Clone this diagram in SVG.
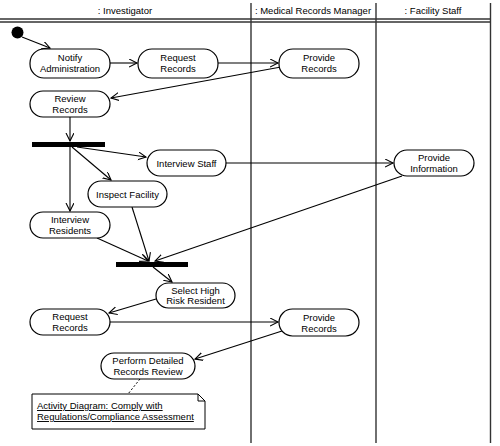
<svg xmlns="http://www.w3.org/2000/svg" width="500" height="446" viewBox="0 0 500 446">
<defs>
<marker id="arr" markerUnits="userSpaceOnUse" markerWidth="10" markerHeight="10" refX="8" refY="4" orient="auto">
<path d="M0,0 L8,4 L0,8" fill="none" stroke="#000" stroke-width="1.1"/>
</marker>
<style>
text{font-family:"Liberation Sans",Arial,sans-serif;font-size:9.5px;fill:#000;text-anchor:middle}
.act{fill:#fff;stroke:#000;stroke-width:1.2}
.bar{fill:#000}
.lane{stroke:#333;stroke-width:1.4;fill:none}
.c{stroke:#000;stroke-width:1.1;fill:none;marker-end:url(#arr)}
.note{fill:#fff;stroke:#000;stroke-width:1}
.nt{text-anchor:start;text-decoration:underline}
</style>
</defs>
<rect width="500" height="446" fill="#fff"/>
<g id="lanes">
<line class="lane" x1="251" y1="3" x2="251" y2="443"/>
<line class="lane" x1="376" y1="3" x2="376" y2="443"/>
<line class="lane" x1="490.5" y1="3" x2="490.5" y2="443" stroke="#666"/>
<line class="lane" x1="0" y1="19" x2="491" y2="19"/>
<line class="lane" x1="0" y1="22" x2="491" y2="22"/>
<text x="125" y="14">: Investigator</text>
<text x="313" y="14">: Medical Records Manager</text>
<text x="433" y="14">: Facility Staff</text>
</g>
<g id="connectors">
<line class="c" x1="22" y1="37" x2="50" y2="48"/>
<line class="c" x1="110" y1="63" x2="137" y2="63"/>
<line class="c" x1="218" y1="63" x2="278" y2="63"/>
<line class="c" x1="281" y1="67" x2="111" y2="98"/>
<line class="c" x1="70" y1="117" x2="70" y2="141"/>
<line class="c" x1="77" y1="147" x2="146" y2="157"/>
<line class="c" x1="72" y1="147" x2="111" y2="180"/>
<line class="c" x1="70" y1="147" x2="70" y2="211"/>
<line class="c" x1="226" y1="163" x2="393" y2="163"/>
<line class="c" x1="402" y1="176" x2="155" y2="261"/>
<line class="c" x1="132" y1="207" x2="149" y2="261"/>
<line class="c" x1="97" y1="238" x2="148" y2="261"/>
<line class="c" x1="153" y1="267" x2="172" y2="282"/>
<line class="c" x1="156" y1="299" x2="109" y2="313"/>
<line class="c" x1="110" y1="322" x2="278" y2="322"/>
<line class="c" x1="282" y1="331" x2="195" y2="359"/>
<line x1="140" y1="379" x2="128" y2="394" stroke="#000" stroke-width="1" stroke-dasharray="2,2"/>
</g>
<g id="start"><circle cx="17.5" cy="32.5" r="6" fill="#000"/></g>
<g id="notify"><rect class="act" x="30" y="49" width="80" height="29" rx="14"/><text x="70" y="61">Notify</text><text x="70" y="72">Administration</text></g>
<g id="request1"><rect class="act" x="138" y="49" width="80" height="29" rx="14"/><text x="178" y="61">Request</text><text x="178" y="72">Records</text></g>
<g id="provide1"><rect class="act" x="279" y="49" width="80" height="29" rx="14"/><text x="319" y="61">Provide</text><text x="319" y="72">Records</text></g>
<g id="review"><rect class="act" x="30" y="91" width="80" height="26" rx="13"/><text x="70" y="102">Review</text><text x="70" y="113">Records</text></g>
<g id="fork"><rect class="bar" x="32" y="142" width="73" height="5"/></g>
<g id="interviewStaff"><rect class="act" x="147" y="150" width="79" height="26" rx="13"/><text x="186.5" y="166.5">Interview Staff</text></g>
<g id="inspect"><rect class="act" x="88" y="181" width="79" height="26" rx="13"/><text x="127.5" y="197.5">Inspect Facility</text></g>
<g id="interviewResidents"><rect class="act" x="30" y="212" width="80" height="26" rx="13"/><text x="70" y="223">Interview</text><text x="70" y="234">Residents</text></g>
<g id="provideInfo"><rect class="act" x="394" y="150" width="80" height="26" rx="13"/><text x="434" y="161">Provide</text><text x="434" y="172">Information</text></g>
<g id="join"><rect class="bar" x="116" y="262" width="72" height="5"/></g>
<g id="select"><rect class="act" x="156" y="283" width="79" height="25" rx="12.5"/><text x="195.5" y="293.5">Select High</text><text x="195.5" y="304">Risk Resident</text></g>
<g id="request2"><rect class="act" x="30" y="309" width="80" height="26" rx="13"/><text x="70" y="320">Request</text><text x="70" y="331">Records</text></g>
<g id="provide2"><rect class="act" x="279" y="309" width="80" height="27" rx="13.5"/><text x="319" y="320.5">Provide</text><text x="319" y="331.5">Records</text></g>
<g id="perform"><rect class="act" x="101" y="353" width="94" height="26" rx="13"/><text x="148" y="364">Perform Detailed</text><text x="148" y="375">Records Review</text></g>
<g id="note">
<path class="note" d="M32,394 L198,394 L205,401 L205,429 L32,429 Z"/>
<path d="M198,394 L198,401 L205,401" fill="none" stroke="#000" stroke-width="1"/>
<text class="nt" x="37" y="409">Activity Diagram: Comply with </text>
<text class="nt" x="37" y="420">Regulations/Compliance Assessment</text>
</g>
</svg>
